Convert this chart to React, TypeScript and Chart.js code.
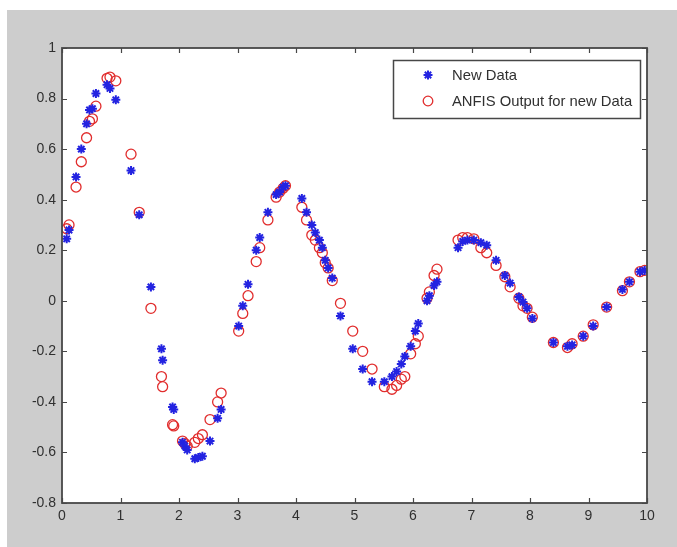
import React, { useEffect, useRef } from 'react';
import { Chart, registerables } from 'chart.js';

Chart.register(...registerables);

// ---- data ----
const xValues = [
  0.08, 0.12, 0.24, 0.33, 0.42, 0.47, 0.52, 0.58, 0.77, 0.82, 0.92, 1.18, 1.32,
  1.52, 1.70, 1.72, 1.89, 1.91, 2.06, 2.10, 2.14, 2.27, 2.33, 2.40, 2.53, 2.66, 2.72,
  3.02, 3.09, 3.18, 3.32, 3.38, 3.52, 3.66, 3.72, 3.78, 3.82,
  4.10, 4.18, 4.27, 4.33, 4.40, 4.45, 4.50, 4.55, 4.62, 4.76, 4.97, 5.14, 5.30,
  5.51, 5.64, 5.72, 5.80, 5.86, 5.96, 6.04, 6.09, 6.24, 6.28, 6.36, 6.41,
  6.77, 6.85, 6.93, 7.04, 7.16, 7.26, 7.42, 7.57, 7.66, 7.81, 7.88, 7.95, 8.04,
  8.40, 8.64, 8.72, 8.91, 9.08, 9.31, 9.58, 9.70, 9.88, 9.96,
];
const newData = [
  0.245, 0.28, 0.49, 0.60, 0.70, 0.755, 0.76, 0.82, 0.855, 0.84, 0.795, 0.515, 0.34,
  0.055, -0.19, -0.235, -0.42, -0.43, -0.56, -0.575, -0.59, -0.625, -0.62, -0.615, -0.555, -0.465, -0.43,
  -0.10, -0.02, 0.065, 0.20, 0.25, 0.35, 0.42, 0.43, 0.45, 0.455,
  0.405, 0.35, 0.30, 0.27, 0.24, 0.21, 0.16, 0.13, 0.09, -0.06, -0.19, -0.27, -0.32,
  -0.32, -0.30, -0.28, -0.25, -0.22, -0.18, -0.12, -0.09, 0.00, 0.02, 0.06, 0.075,
  0.21, 0.235, 0.24, 0.24, 0.23, 0.22, 0.16, 0.10, 0.07, 0.015, -0.005, -0.03, -0.07,
  -0.165, -0.18, -0.175, -0.14, -0.10, -0.025, 0.045, 0.075, 0.115, 0.12,
];
const anfisOutput = [
  0.285, 0.30, 0.45, 0.55, 0.645, 0.71, 0.72, 0.77, 0.88, 0.885, 0.87, 0.58, 0.35,
  -0.03, -0.30, -0.34, -0.49, -0.495, -0.555, -0.565, -0.575, -0.56, -0.545, -0.53, -0.47, -0.40, -0.365,
  -0.12, -0.05, 0.02, 0.155, 0.21, 0.32, 0.41, 0.43, 0.445, 0.455,
  0.37, 0.32, 0.26, 0.24, 0.21, 0.19, 0.15, 0.13, 0.08, -0.01, -0.12, -0.20, -0.27,
  -0.34, -0.35, -0.335, -0.31, -0.30, -0.21, -0.17, -0.14, 0.01, 0.035, 0.10, 0.125,
  0.24, 0.25, 0.25, 0.245, 0.21, 0.19, 0.14, 0.095, 0.055, 0.01, -0.02, -0.03, -0.065,
  -0.165, -0.185, -0.17, -0.14, -0.095, -0.025, 0.04, 0.075, 0.115, 0.12,
];
const seriesLabels = ['New Data', 'ANFIS Output for new Data'];
const xTicks = [0, 1, 2, 3, 4, 5, 6, 7, 8, 9, 10];
const yTicks = [-0.8, -0.6, -0.4, -0.2, 0, 0.2, 0.4, 0.6, 0.8, 1];

const BLUE = 'rgb(35,35,225)';
const RED = 'rgb(225,45,45)';
const AXIS = '#474747';
const TEXT = '#303030';
const FONT = 'Liberation Sans';

function drawStar(ctx: CanvasRenderingContext2D, x: number, y: number, r: number) {
  ctx.beginPath();
  ctx.moveTo(x - r, y); ctx.lineTo(x + r, y);
  ctx.moveTo(x, y - r); ctx.lineTo(x, y + r);
  const d = r * Math.SQRT1_2;
  ctx.moveTo(x - d, y - d); ctx.lineTo(x + d, y + d);
  ctx.moveTo(x - d, y + d); ctx.lineTo(x + d, y - d);
  ctx.stroke();
}

const framePlugin = {
  id: 'matlabFrame',
  beforeDraw(chart: any) {
    const { ctx, width, height, chartArea: a } = chart;
    ctx.save();
    ctx.fillStyle = '#ffffff';
    ctx.fillRect(0, 0, width, height);
    ctx.fillStyle = '#cdcdcd';
    ctx.fillRect(7, 10, width - 7, height - 10);
    ctx.fillStyle = '#ffffff';
    ctx.fillRect(a.left, a.top, a.right - a.left, a.bottom - a.top);
    ctx.restore();
  },
  afterDraw(chart: any) {
    const { ctx, chartArea: a, scales } = chart;
    ctx.save();
    ctx.strokeStyle = AXIS;
    ctx.lineWidth = 1.2;
    const tl = 5;
    ctx.beginPath();
    xTicks.forEach((v) => {
      const px = Math.round(scales.x.getPixelForValue(v)) + 0.5;
      ctx.moveTo(px, a.bottom); ctx.lineTo(px, a.bottom - tl);
      ctx.moveTo(px, a.top); ctx.lineTo(px, a.top + tl);
    });
    yTicks.forEach((v) => {
      const py = Math.round(scales.y.getPixelForValue(v)) + 0.5;
      ctx.moveTo(a.left, py); ctx.lineTo(a.left + tl, py);
      ctx.moveTo(a.right, py); ctx.lineTo(a.right - tl, py);
    });
    ctx.stroke();
    ctx.lineWidth = 1.8;
    ctx.strokeRect(a.left, a.top, a.right - a.left, a.bottom - a.top);

    // legend
    const lx = 393, ly = 60, lw = 247, lh = 58;
    ctx.fillStyle = '#ffffff';
    ctx.fillRect(lx, ly, lw, lh);
    ctx.strokeStyle = AXIS;
    ctx.lineWidth = 1.5;
    ctx.strokeRect(lx + 0.5, ly + 0.5, lw, lh);
    ctx.strokeStyle = BLUE;
    ctx.lineWidth = 2;
    drawStar(ctx, 428, 75, 4.5);
    ctx.strokeStyle = RED;
    ctx.lineWidth = 1.3;
    ctx.beginPath();
    ctx.arc(428, 101, 4.8, 0, Math.PI * 2);
    ctx.stroke();
    ctx.fillStyle = TEXT;
    ctx.font = `14.8px "${FONT}"`;
    ctx.textBaseline = 'middle';
    ctx.textAlign = 'left';
    ctx.fillText(seriesLabels[0], 452, 76);
    ctx.fillText(seriesLabels[1], 452, 102);
    ctx.restore();
  },
};

const fmt = (v: number) => String(Number(v.toFixed(1)));

export default function App() {
  const ref = useRef<HTMLCanvasElement | null>(null);
  useEffect(() => {
    document.body.style.margin = '0';
    const canvas = ref.current!;
    const chart = new Chart(canvas, {
      type: 'scatter',
      data: {
        datasets: [
          {
            label: seriesLabels[0],
            data: xValues.map((x, i) => ({ x, y: newData[i] })),
            pointStyle: 'star',
            radius: 4.5,
            borderColor: BLUE,
            backgroundColor: BLUE,
            borderWidth: 2,
          },
          {
            label: seriesLabels[1],
            data: xValues.map((x, i) => ({ x, y: anfisOutput[i] })),
            pointStyle: 'circle',
            radius: 5,
            borderColor: RED,
            backgroundColor: 'rgba(0,0,0,0)',
            borderWidth: 1.3,
          },
        ],
      },
      options: {
        responsive: false,
        animation: false,
        layout: { padding: { left: 0, top: 48, right: 30, bottom: 0 } },
        plugins: { legend: { display: false }, tooltip: { enabled: false } },
        scales: {
          x: {
            type: 'linear',
            min: 0,
            max: 10,
            afterBuildTicks: (s: any) => { s.ticks = xTicks.map((v) => ({ value: v })); },
            afterFit: (s: any) => { s.height = 44; },
            ticks: {
              color: TEXT,
              font: { family: FONT, size: 14 },
              padding: 5,
              maxRotation: 0,
              autoSkip: false,
              callback: (v: any) => fmt(Number(v)),
            },
            grid: { display: false, drawTicks: false },
            border: { display: false },
          },
          y: {
            type: 'linear',
            min: -0.8,
            max: 1,
            afterBuildTicks: (s: any) => { s.ticks = yTicks.map((v) => ({ value: v })); },
            afterFit: (s: any) => { s.width = 62; },
            ticks: {
              color: TEXT,
              font: { family: FONT, size: 14 },
              padding: 6,
              autoSkip: false,
              callback: (v: any) => fmt(Number(v)),
            },
            grid: { display: false, drawTicks: false },
            border: { display: false },
          },
        },
      },
      plugins: [framePlugin],
    } as any);
    return () => chart.destroy();
  }, []);
  return <canvas ref={ref} width={677} height={547} style={{ display: 'block' }} />;
}
